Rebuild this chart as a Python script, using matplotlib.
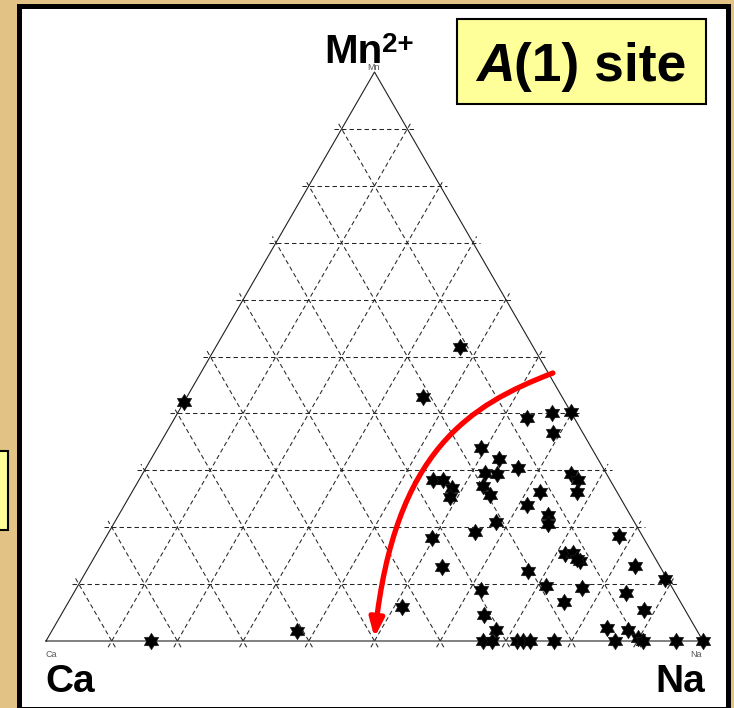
import numpy as np
import matplotlib
matplotlib.use('Agg')
import matplotlib.pyplot as plt
from matplotlib.patches import Rectangle, FancyArrowPatch
from matplotlib.path import Path

plt.rcParams['font.family'] = ['Liberation Sans', 'DejaVu Sans']
plt.rcParams['lines.scale_dashes'] = False

# composition of the A(1) site, in percent (Ca = 100 - Na - Mn)
na = [0, 16, 37.3, 37.2, 35.9, 53.6, 57.0, 59.8, 58.9, 49.2, 52.9, 56.6, 52.0, 53.9,
      44.7, 46.3, 48.4, 48.8, 52.9, 54.8, 62.1, 61.2, 65.2, 66.9, 67.7, 65.3, 66.1,
      58.1, 55.7, 49.7, 53.8, 67.2, 61.7, 71.2, 51.2, 64.4, 67.5, 66.5, 67.9, 71.7,
      72.6, 73.7, 77.3, 77.9, 71.4, 72.5, 74.3, 73.6, 83.0, 88.7, 76.9, 84.1, 75.4,
      88.3, 84.3, 87.6, 89.8, 90.9, 86.6, 95.9, 100]
mn = [42, 0, 1.8, 51.7, 42.9, 39.2, 40.1, 40.2, 36.6, 33.9, 32.0, 30.4, 29.5, 29.4,
      28.3, 28.3, 26.9, 25.3, 27.2, 25.7, 26.2, 23.9, 29.4, 28.3, 26.2, 22.1, 20.6,
      20.9, 19.2, 18.1, 13.0, 12.3, 9.0, 9.7, 6.0, 4.6, 1.9, 0, 0, 0,
      0, 0, 0, 18.5, 15.3, 15.5, 14.1, 14.4, 13.2, 10.9, 9.3, 8.4, 6.9,
      5.4, 2.3, 1.9, 0.5, 0, 0, 0, 0]

# trend arrow (cubic bezier control points, Na / Mn percent)
trend_na = [53.6, 43.8, 36.3, 49.7]
trend_mn = [47.1, 41.5, 33.6, 0.6]

grid_steps = np.arange(10, 100, 10)

W, H = 734, 708
SQ3 = np.sqrt(3) / 2


def tern(n, m):
    n = np.asarray(n, float) / 100
    m = np.asarray(m, float) / 100
    return n + m / 2, m * SQ3


def px_box(x0, y0, x1, y1, **kw):
    # rectangle given in pixel coords (origin top-left)
    r = Rectangle((x0 / W, 1 - y1 / H), (x1 - x0) / W, (y1 - y0) / H,
                  transform=fig.transFigure, clip_on=False, **kw)
    ax.add_patch(r)
    return r


def px_text(x, y, s, **kw):
    return ax.text(x / W, 1 - y / H, s, transform=fig.transFigure, **kw)


fig = plt.figure(figsize=(W / 100, H / 100), dpi=100, facecolor='#E2C285')
ax = fig.add_axes([0, 0, 1, 1])
ax.set_xlim(-46 / 657, (W - 46) / 657)
ax.set_ylim((641 - H) / 657, 641 / 657)
ax.axis('off')

# page frame and side boxes
px_box(18.5, 6, 728, 709, facecolor='white', edgecolor='black', lw=3.6, zorder=0)
px_box(-10, 451, 7.5, 529.5, facecolor='#FFFF99', edgecolor='black', lw=1.5, zorder=0)
px_box(457, 19, 706, 104, facecolor='#FFFF99', edgecolor='black', lw=1.5, zorder=1)

# dashed grid, each line poking slightly past the edges
ext = 0.011
for c in grid_steps:
    lines = [((0, c), (100 - c, c)),          # constant Mn
             ((c, 0), (c, 100 - c)),          # constant Na
             ((100 - c, 0), (0, 100 - c))]    # constant Ca
    for (n0, m0), (n1, m1) in lines:
        x, y = tern([n0, n1], [m0, m1])
        d = np.array([x[1] - x[0], y[1] - y[0]])
        d /= np.hypot(*d)
        ax.plot([x[0] - d[0] * ext, x[1] + d[0] * ext],
                [y[0] - d[1] * ext, y[1] + d[1] * ext],
                color='#262626', lw=0.75, dashes=(3.2, 2.2), zorder=2)

# triangle outline
tx, ty = tern([0, 100, 0, 0], [0, 0, 100, 0])
ax.plot(tx, ty, color='#202020', lw=0.8, zorder=3)

# data points
star = Path.unit_regular_star(6, 0.6)
px, py = tern(na, mn)
ax.plot(px, py, linestyle='none', marker=star, markersize=12,
        color='black', markeredgecolor='#202020', markeredgewidth=0.4, zorder=4)

# red trend arrow
cx, cy = tern(trend_na, trend_mn)
path = Path(list(zip(cx, cy)), [Path.MOVETO, Path.CURVE4, Path.CURVE4, Path.CURVE4])
arrow = FancyArrowPatch(path=path, arrowstyle='-|>,head_length=0.9,head_width=0.35',
                        mutation_scale=12, color='#FF0000', lw=3.8, zorder=5)
ax.add_patch(arrow)

# small vertex tags
px_text(374, 70, 'Mn', fontsize=6.5, color='#555555', va='baseline', ha='center', zorder=6)
px_text(45, 657, 'Ca', fontsize=6.5, color='#555555', va='baseline', ha='left', zorder=6)
px_text(702, 657, 'Na', fontsize=6.5, color='#555555', va='baseline', ha='right', zorder=6)

# vertex labels
px_text(324, 63, 'Mn', fontsize=29, fontweight='bold', va='baseline', ha='left', zorder=7)
px_text(382, 52, '2+', fontsize=20, fontweight='bold', va='baseline', ha='left', zorder=7)
px_text(45, 692, 'Ca', fontsize=28, fontweight='bold', va='baseline', ha='left', zorder=7)
px_text(705, 692, 'Na', fontsize=28, fontweight='bold', va='baseline', ha='right', zorder=7)

# site label
px_text(515, 81, 'A', fontsize=38.5, fontweight='bold', fontstyle='italic',
        va='baseline', ha='right', zorder=7)
px_text(514, 81, '(1) site', fontsize=38.5, fontweight='bold',
        va='baseline', ha='left', zorder=7)

fig.savefig('out.png', dpi=100, facecolor=fig.get_facecolor())
